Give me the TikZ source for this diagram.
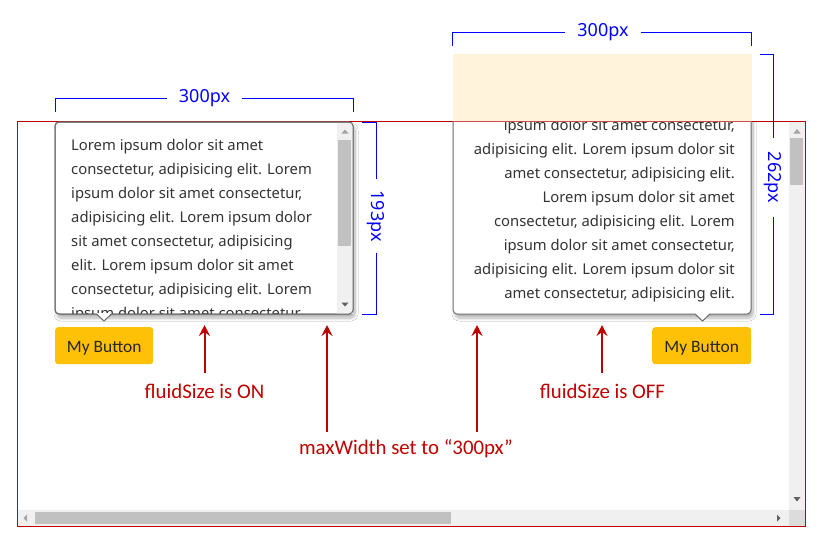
\documentclass[tikz,border=0pt]{standalone}
\usepackage{fontspec}
\usetikzlibrary{arrows.meta,shadows.blur}
\newfontfamily\uifont{Noto Sans}
\newfontfamily\califont{Carlito}
\definecolor{framered}{HTML}{C00000}
\definecolor{arrred}{HTML}{C00000}
\definecolor{dimblue}{HTML}{0000FF}
\definecolor{txtgray}{HTML}{333333}
\definecolor{popborder}{HTML}{6E6E6E}
\definecolor{btnyellow}{HTML}{FFC107}
\definecolor{beigecol}{HTML}{FFF3DC}
\definecolor{sbtrack}{HTML}{F0F0F0}
\definecolor{sbthumb}{HTML}{C1C1C1}
\definecolor{sbarrow}{HTML}{A3A3A3}
\definecolor{sbarrowdark}{HTML}{606060}
\definecolor{sbcorner}{HTML}{DCDCDC}
\tikzset{
  popup/.style={fill=white,draw=popborder,line width=1pt,rounded corners=4pt,
    blur shadow={shadow xshift=2pt,shadow yshift=-4pt,shadow blur steps=8,shadow blur radius=3pt,shadow opacity=30}},
  poptxt/.style={font=\uifont\fontsize{14.8}{18}\selectfont,text=txtgray,inner sep=0pt},
  btn/.style={fill=btnyellow,rounded corners=3pt,draw=none},
  btntxt/.style={font=\califont\fontsize{17.4}{20}\selectfont,text=black!85},
  dimline/.style={draw=dimblue,line width=1pt},
  dimtxt/.style={font=\uifont\fontsize{18}{21}\selectfont,text=dimblue,inner ysep=0pt},
  redarrow/.style={draw=arrred,line width=2pt,-{Stealth[length=11pt,width=11pt,inset=4pt]}},
  redtxt/.style={font=\califont\fontsize{20.8}{24}\selectfont,text=arrred},
}
\begin{document}
\begin{tikzpicture}[x=1pt,y=-1pt]
\useasboundingbox (0,0) rectangle (825,550);
\fill[white] (0,0) rectangle (825,550);

% ---- main scroll area scrollbars ----
\fill[sbtrack] (788.5,122) rectangle (804.5,510);
\fill[sbtrack] (17.5,510) rectangle (788.5,525.5);
\fill[sbcorner] (788.5,510) rectangle (804.5,525.5);
\fill[sbthumb] (790,138) rectangle (803,185);
\fill[sbthumb] (35,511.5) rectangle (451,524);
\fill[sbarrow] (793.5,133.5) -- (800.5,133.5) -- (797,129) -- cycle;
\fill[sbarrowdark] (793.5,497) -- (800.5,497) -- (797,501.5) -- cycle;
\fill[sbarrow] (27,514.5) -- (27,521.5) -- (23.5,518) -- cycle;
\fill[sbarrowdark] (777,514.5) -- (777,521.5) -- (780.5,518) -- cycle;

% ---- frame ----
\draw[framered,line width=1pt] (17.5,121.5) rectangle (805,526);

% ---- left popup ----
\path[popup] (55,122) rectangle (353,314);
\begin{scope}
\clip (55.5,122.5) rectangle (337,313.5);
\foreach \k/\t in {0/{Lorem ipsum dolor sit amet},
                   1/{consectetur, adipisicing elit. Lorem},
                   2/{ipsum dolor sit amet consectetur,},
                   3/{adipisicing elit. Lorem ipsum dolor},
                   4/{sit amet consectetur, adipisicing},
                   5/{elit. Lorem ipsum dolor sit amet},
                   6/{consectetur, adipisicing elit. Lorem},
                   7/{ipsum dolor sit amet consectetur}}
  \node[poptxt,anchor=mid west] (lt\k) at (71,148.5+24*\k) {\t};
\end{scope}
\fill[sbtrack] (337,122.5) rectangle (352.5,313.5);
\fill[sbthumb] (338,140) rectangle (351,246);
\fill[sbarrow] (341.5,133.5) -- (348.5,133.5) -- (345,129.5) -- cycle;
\fill[sbarrowdark] (341.5,302.5) -- (348.5,302.5) -- (345,306.5) -- cycle;
\draw[popborder,line width=1pt,rounded corners=4pt] (55,122) rectangle (353,314);
\fill[white] (96.5,313.2) -- (104,320.5) -- (111.5,313.2) -- cycle;
\draw[popborder,line width=1pt] (96.5,314) -- (104,321) -- (111.5,314);

% ---- right popup ----
\begin{scope}
\clip (430,121) rectangle (780,345);
\path[popup] (453,54) rectangle (751,314);
\end{scope}
\begin{scope}
\clip (453.5,121.5) rectangle (750.5,313.5);
\foreach \k/\t in {0/{ipsum dolor sit amet consectetur,},
                   1/{adipisicing elit. Lorem ipsum dolor sit},
                   2/{amet consectetur, adipisicing elit.},
                   3/{Lorem ipsum dolor sit amet},
                   4/{consectetur, adipisicing elit. Lorem},
                   5/{ipsum dolor sit amet consectetur,},
                   6/{adipisicing elit. Lorem ipsum dolor sit},
                   7/{amet consectetur, adipisicing elit.}}
  \node[poptxt,anchor=mid east] (rt\k) at (735,128+24*\k) {\t};
\end{scope}
\fill[white] (695,313.2) -- (702.5,320.5) -- (710,313.2) -- cycle;
\draw[popborder,line width=1pt] (695,314) -- (702.5,321) -- (710,314);
\fill[beigecol] (453,54) rectangle (751.5,121);
\draw[framered!70,line width=0.8pt] (453,121.5) -- (751.5,121.5);

% ---- buttons ----
\node[btn,minimum width=98pt,minimum height=37pt,anchor=north west] (b1) at (55,327) {};
\node[btntxt,yshift=-2.5pt] (b1t) at (b1.center) {My Button};
\node[btn,minimum width=99pt,minimum height=37pt,anchor=north west] (b2) at (652,327) {};
\node[btntxt,yshift=-2.5pt] (b2t) at (b2.center) {My Button};

% ---- dimensions ----
\node[dimtxt,inner xsep=12pt] (w1) at (204.5,98.5) {300px};
\draw[dimline] (55,112) |- (w1.west);
\draw[dimline] (w1.east) -| (353,112);
\node[dimtxt,inner xsep=11pt,rotate=-90] (h1) at (376,216) {193px};
\draw[dimline] (362,122) -| (h1.west);
\draw[dimline] (h1.east) |- (362,314);
\node[dimtxt,inner xsep=12pt] (w2) at (603,32.5) {300px};
\draw[dimline] (452.5,46) |- (w2.west);
\draw[dimline] (w2.east) -| (751.5,46);
\node[dimtxt,inner xsep=14pt,rotate=-90] (h2) at (773,177.5) {262px};
\draw[dimline] (760,54) -| (h2.west);
\draw[dimline] (h2.east) |- (760,314);

% ---- annotations ----
\node[redtxt] (lab1) at (204.5,391) {fluidSize is ON};
\node[redtxt] (lab2) at (602.5,391) {fluidSize is OFF};
\node[redtxt] (lab3) at (406,448.5) {maxWidth set to “300px”};
\coordinate (a1s) at (204.5,373); \coordinate (a1t) at (204.5,325);
\coordinate (a2s) at (327,432);   \coordinate (a2t) at (327,325);
\coordinate (a3s) at (477,432);   \coordinate (a3t) at (477,325);
\coordinate (a4s) at (602,373);   \coordinate (a4t) at (602,325);
\draw[redarrow] (a1s) -- (a1t);
\draw[redarrow] (a2s) -- (a2t);
\draw[redarrow] (a3s) -- (a3t);
\draw[redarrow] (a4s) -- (a4t);
\end{tikzpicture}
\end{document}
